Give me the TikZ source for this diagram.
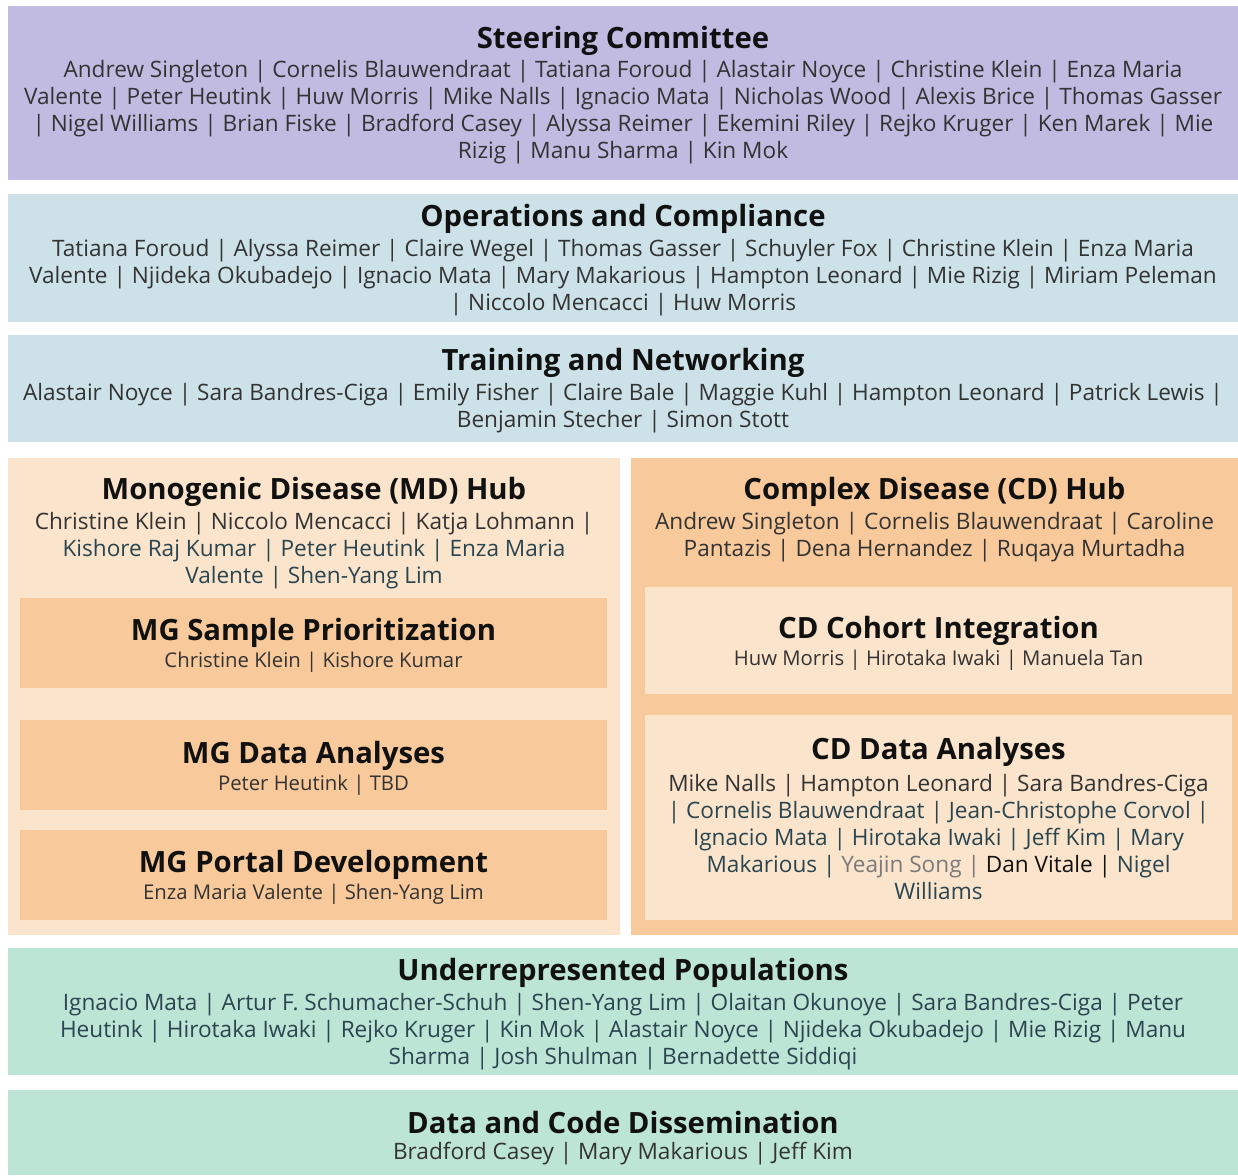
\documentclass[tikz,border=0pt]{standalone}
\usepackage{fontspec}
\setmainfont{Open Sans}
\definecolor{cPurple}{HTML}{C1BAE1}
\definecolor{cBlue}{HTML}{CCE2E8}
\definecolor{cPeachL}{HTML}{FBE4CC}
\definecolor{cPeach}{HTML}{F8C99B}
\definecolor{cGreen}{HTML}{BDE5D6}
\definecolor{cTitle}{HTML}{111111}
\definecolor{cName}{HTML}{333333}
\definecolor{cTeal}{HTML}{2A4550}
\definecolor{cGrey}{HTML}{7A7A7A}
\newcommand{\tl}[1]{\textcolor{cTeal}{#1}}
\newcommand{\gy}[1]{\textcolor{cGrey}{#1}}
\newcommand{\bk}[1]{\textcolor{cTitle}{#1}}
\tikzset{
  panel/.style={inner sep=0pt, outer sep=0pt, anchor=north west, draw=none},
  ttl/.style={font=\fontsize{29.3}{34}\selectfont\bfseries, text=cTitle, inner sep=0pt},
  subttl/.style={font=\fontsize{29.3}{34}\selectfont\bfseries, text=cTitle, inner sep=0pt},
  nm/.style={font=\fontsize{22.6}{27}\selectfont, align=center, text=cName, inner sep=0pt},
  subnm/.style={font=\fontsize{20.3}{24}\selectfont, align=center, text=cName, inner sep=0pt},
}
\newcommand{\panel}[6]{\node[panel, fill=#6, minimum width={#4pt-#2pt}, minimum height={#5pt-#3pt}] (#1) at (#2,#3) {};}
\begin{document}
\begin{tikzpicture}[x=1pt,y=-1pt]
\useasboundingbox (0,0) rectangle (1238,1175);
% panels
\panel{steer}{8}{6}{1238}{180}{cPurple}
\panel{ops}{8}{194}{1238}{322}{cBlue}
\panel{train}{8}{335}{1238}{442}{cBlue}
\panel{mdhub}{8}{458}{620}{935}{cPeachL}
\panel{cdhub}{631}{458}{1238}{935}{cPeach}
\panel{mgsample}{20}{598}{607}{688}{cPeach}
\panel{mgdata}{20}{720}{607}{810}{cPeach}
\panel{mgportal}{20}{830}{607}{920}{cPeach}
\panel{cdcohort}{645}{587}{1232}{694}{cPeachL}
\panel{cddata}{645}{715}{1232}{920}{cPeachL}
\panel{under}{8}{948}{1238}{1075}{cGreen}
\panel{dcd}{8}{1090}{1238}{1175}{cGreen}
% Steering
\node[ttl] (steerT) at (623,41) {Steering Committee};
\node[nm] (steerN) at (623,112) {Andrew Singleton | Cornelis Blauwendraat | Tatiana Foroud | Alastair Noyce | Christine Klein | Enza Maria\\
Valente | Peter Heutink | Huw Morris | Mike Nalls | Ignacio Mata | Nicholas Wood | Alexis Brice | Thomas Gasser\\
| Nigel Williams | Brian Fiske | Bradford Casey | Alyssa Reimer | Ekemini Riley | Rejko Kruger | Ken Marek | Mie\\
Rizig | Manu Sharma | Kin Mok};
% Ops
\node[ttl] (opsT) at (623,219) {Operations and Compliance};
\node[nm] (opsN) at (623,277.5) {Tatiana Foroud | Alyssa Reimer | Claire Wegel | Thomas Gasser | Schuyler Fox | Christine Klein | Enza Maria\\
Valente | Njideka Okubadejo | Ignacio Mata | Mary Makarious | Hampton Leonard | Mie Rizig | Miriam Peleman\\
| Niccolo Mencacci | Huw Morris};
% Training
\node[ttl] (trainT) at (623,363) {Training and Networking};
\node[nm] (trainN) at (623,408) {Alastair Noyce | Sara Bandres-Ciga | Emily Fisher | Claire Bale | Maggie Kuhl | Hampton Leonard | Patrick Lewis |\\
Benjamin Stecher | Simon Stott};
% MD hub
\node[ttl] (mdT) at (314,492) {Monogenic Disease (MD) Hub};
\node[nm] (mdN) at (314,550.5) {Christine Klein | Niccolo Mencacci | Katja Lohmann |\\
\tl{Kishore Raj Kumar | Peter Heutink | Enza Maria}\\
\tl{Valente | Shen-Yang Lim}};
\node[subttl] (mgsT) at (313.5,633) {MG Sample Prioritization};
\node[subnm] (mgsN) at (313.5,662.5) {Christine Klein | Kishore Kumar};
\node[subttl] (mgdT) at (313.5,756) {MG Data Analyses};
\node[subnm] (mgdN) at (313.5,785.5) {Peter Heutink | TBD};
\node[subttl] (mgpT) at (313.5,865) {MG Portal Development};
\node[subnm] (mgpN) at (313.5,894.5) {Enza Maria Valente | Shen-Yang Lim};
% CD hub
\node[ttl] (cdT) at (934.5,492) {Complex Disease (CD) Hub};
\node[nm] (cdN) at (934.5,537) {Andrew Singleton | Cornelis Blauwendraat | Caroline\\
Pantazis | Dena Hernandez | Ruqaya Murtadha};
\node[subttl] (cdcT) at (938.5,631) {CD Cohort Integration};
\node[subnm] (cdcN) at (938.5,660.5) {Huw Morris | Hirotaka Iwaki | Manuela Tan};
\node[subttl] (cddT) at (938.5,752) {CD Data Analyses};
\node[nm] (cddN) at (938.5,837.5) {Mike Nalls | Hampton Leonard | Sara Bandres-Ciga\\
\tl{| Cornelis Blauwendraat | Jean-Christophe Corvol |}\\
\tl{Ignacio Mata | Hirotaka Iwaki | Jeff Kim | Mary}\\
\tl{Makarious |} \gy{Yeajin Song |} \bk{Dan Vitale |} \tl{Nigel}\\
\tl{Williams}};
% Underrepresented
\node[ttl] (underT) at (623,973) {Underrepresented Populations};
\node[nm, text=cTeal] (underN) at (623,1031.5) {Ignacio Mata | Artur F. Schumacher-Schuh | Shen-Yang Lim | Olaitan Okunoye | Sara Bandres-Ciga | Peter\\
Heutink | Hirotaka Iwaki | Rejko Kruger | Kin Mok | Alastair Noyce | Njideka Okubadejo | Mie Rizig | Manu\\
Sharma | Josh Shulman | Bernadette Siddiqi};
% Data and code
\node[ttl] (dcdT) at (623,1122) {Data and Code Dissemination};
\node[nm] (dcdN) at (623,1153.5) {Bradford Casey | Mary Makarious | Jeff Kim};
\end{tikzpicture}
\end{document}
